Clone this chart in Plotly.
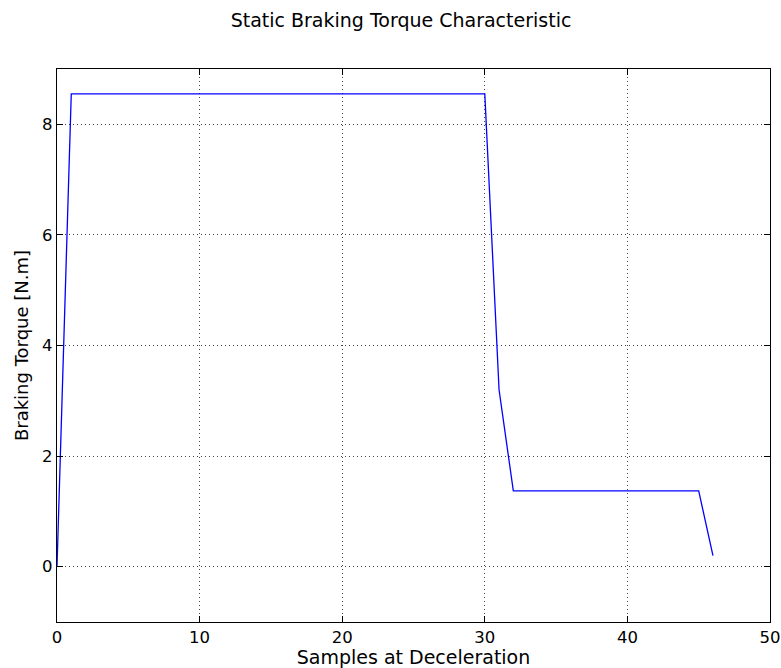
import plotly.graph_objects as go

samples = list(range(0, 47))
torque = [0.0] + [8.55] * 30 + [3.2] + [1.37] * 14 + [0.2]

x_ticks = [0, 10, 20, 30, 40, 50]
y_ticks = [0, 2, 4, 6, 8]

fig = go.Figure()
fig.add_trace(go.Scatter(x=samples, y=torque, mode="lines",
                         line=dict(color="#0000ff", width=1.3), showlegend=False))

tick_font = dict(family="DejaVu Sans", size=16.5, color="#000000")
axis_common = dict(showline=True, linecolor="#000000", linewidth=1.2, mirror="allticks",
                   ticks="inside", ticklen=6, tickwidth=1, tickcolor="#000000",
                   showgrid=True, gridcolor="#444444", griddash="1px,3px", gridwidth=1,
                   zeroline=False, tickfont=tick_font, automargin=False)

fig.update_layout(
    width=781, height=668,
    margin=dict(l=57, r=11, t=69, b=46),
    paper_bgcolor="white", plot_bgcolor="white",
    title=dict(text="Static Braking Torque Characteristic", x=401 / 781, xanchor="center",
               y=1 - 20 / 668, yanchor="middle",
               font=dict(family="DejaVu Sans", size=19, color="#000000")),
    xaxis=dict(range=[0, 50], tickvals=x_ticks,
               title=dict(text="Samples at Deceleration",
                          font=dict(family="DejaVu Sans", size=19, color="#000000"), standoff=0),
               **axis_common),
    yaxis=dict(range=[-1, 9], tickvals=y_ticks,
               title=dict(text="Braking Torque [N.m]",
                          font=dict(family="DejaVu Sans", size=18, color="#000000"), standoff=8),
               **axis_common),
)

fig.write_html("out.html")
